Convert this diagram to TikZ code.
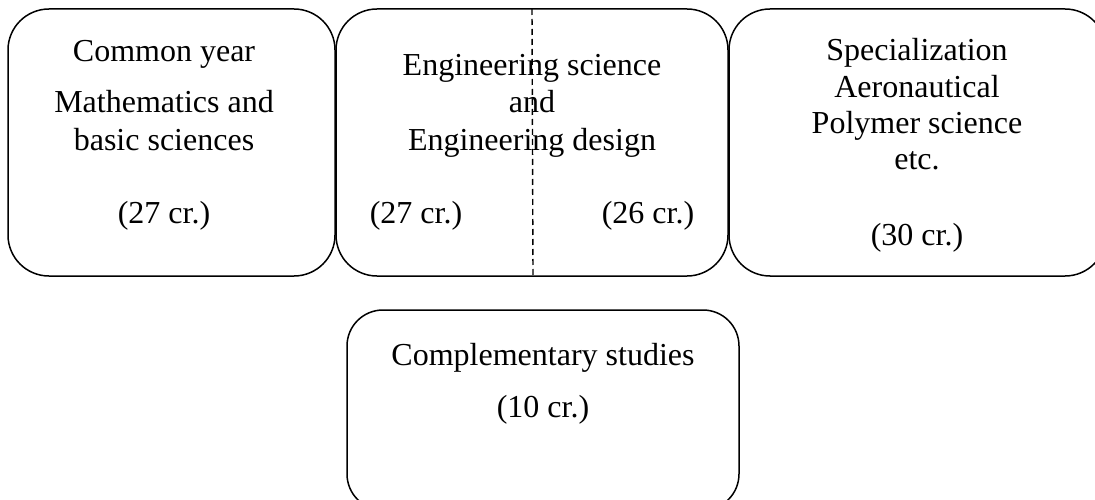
\documentclass[tikz,border=0pt]{standalone}
\usepackage{fontspec}
\setmainfont{Liberation Serif}
\begin{document}
\begin{tikzpicture}[x=1pt,y=-1pt,
  box/.style={draw,line width=1.5pt,rounded corners=41pt},
  lbl/.style={anchor=base,inner sep=0pt,font=\fontsize{32}{36}\selectfont}]
\useasboundingbox (0,0) rectangle (1095,500);
\clip (0,0) rectangle (1095,500);
\draw[box] (8,9) rectangle (335,276);
\draw[box] (336,9) rectangle (728,276);
\draw[box] (729,9) rectangle (1106,276);
\draw[box,rounded corners=36pt] (347,310) rectangle (739,510);
\coordinate (dtop) at (532,9);
\coordinate (dbot) at (533,276);
\draw[line width=1.4pt,dash pattern=on 6pt off 4pt] (dtop) -- (dbot);
% box 1
\node[lbl] (a1) at (164,62) {Common year};
\node[lbl] (a2) at (164,113) {Mathematics and};
\node[lbl] (a3) at (164,150) {basic sciences};
\node[lbl] (a4) at (164,223) {(27 cr.)};
% box 2
\node[lbl] (b1) at (532,76) {Engineering science};
\node[lbl] (b2) at (532,113) {and};
\node[lbl] (b3) at (532,150) {Engineering design};
\node[lbl] (b4) at (416,223) {(27 cr.)};
\node[lbl] (b5) at (648,223) {(26 cr.)};
% box 3
\node[lbl] (c1) at (917,61) {Specialization};
\node[lbl] (c2) at (917,98) {Aeronautical};
\node[lbl] (c3) at (917,134) {Polymer science};
\node[lbl] (c4) at (917,170) {etc.};
\node[lbl] (c5) at (917,245) {(30 cr.)};
% box 4
\node[lbl] (d1) at (543,365) {Complementary studies};
\node[lbl] (d2) at (543,417) {(10 cr.)};
\end{tikzpicture}
\end{document}
